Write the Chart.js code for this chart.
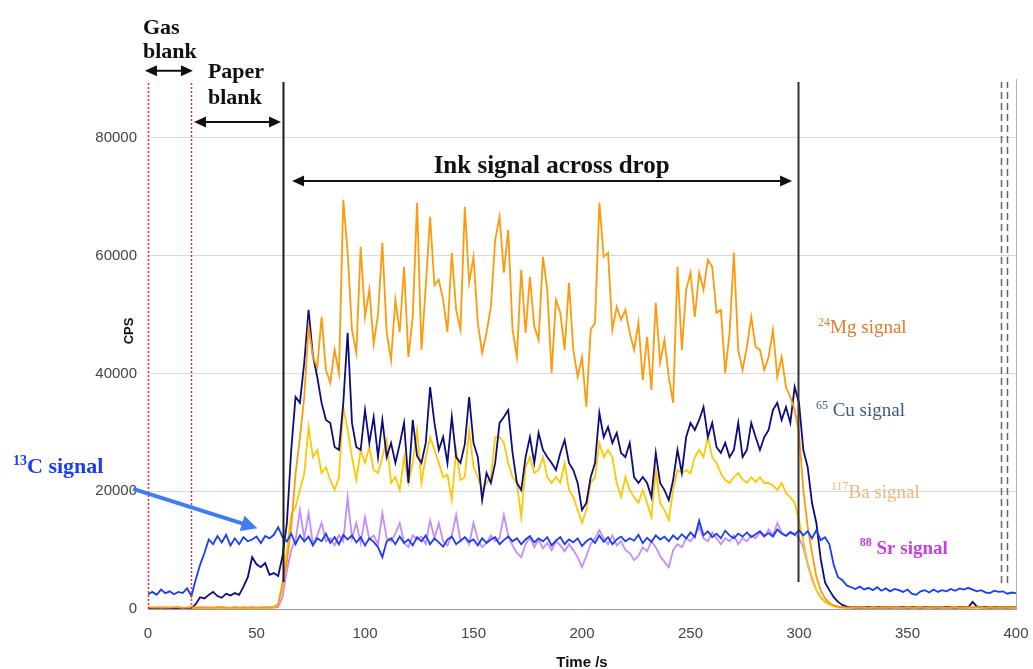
<!DOCTYPE html>
<html>
<head>
<meta charset="utf-8">
<script src="https://cdn.jsdelivr.net/npm/chart.js@4.4.1/dist/chart.umd.min.js"></script>
<style>
html, body { margin: 0; padding: 0; background: #fff; }
#wrap { width: 1033px; height: 669px; position: relative; }
</style>
</head>
<body>
<div id="wrap"><canvas id="icp-chart" width="1033" height="669"></canvas></div>
<script>
// time axis, one reading every 2 s
const time = Array.from({ length: 201 }, (_, i) => i * 2);

const mg24 = [
	300,250,300,200,300,250,300,300,200,250,
	300,250,300,200,300,250,300,300,250,200,
	300,250,300,250,300,200,300,250,300,350,
	800,4500,8000,14000,23000,29000,36000,48000,42800,41000,
	49600,40600,38400,44000,40000,69500,60500,47400,43500,61500,
	49600,54200,45000,50000,62200,46900,42300,52500,47000,58100,
	42800,49600,69000,44000,54700,66600,55000,55900,52500,47000,
	60500,50800,47400,68300,55400,59800,48600,43500,46900,51300,
	62700,66600,57100,64400,47400,42800,57600,46900,56400,48000,
	45700,59800,54200,40100,52500,50300,44000,55400,44000,39400,
	42800,34300,47400,48600,69000,59800,60500,47400,51300,49100,
	50800,46900,44000,48600,38900,46200,37200,52000,41800,45700,
	39400,35000,58100,44000,54200,57100,49600,57100,54200,59300,
	58100,50300,50800,40100,46900,60500,44000,40600,44500,49600,
	44500,44000,40600,42800,47400,39400,42800,37700,36000,33800,
	30000,20200,14000,9500,5500,3200,1800,1000,600,400,
	300,250,300,300,250,300,200,300,250,300,
	300,250,300,300,200,300,250,300,300,250,
	300,300,250,300,200,300,300,250,300,300,
	250,300,300,200,300,250,300,300,250,300,
	300
];

const cu65 = [
	100,100,100,100,100,100,100,100,100,100,
	150,800,2000,1800,2400,2900,2200,1900,2600,2300,
	2700,2400,3800,5400,8800,7600,7100,7800,5800,6100,
	5600,9000,14600,27000,36000,35000,41800,50800,43000,39400,
	35000,32100,31600,27500,27000,35000,46900,31600,27500,27000,
	33800,28200,32600,25800,32100,25800,28200,24800,28000,31600,
	21400,32100,26000,24800,28200,37700,31600,27000,29200,24800,
	32600,25800,24800,28000,36000,28200,25800,18500,23100,21400,
	24800,31600,32600,33800,26500,21400,20200,25800,29200,24800,
	29900,27000,25800,24800,23600,26500,28700,24800,23600,21400,
	16800,18000,22400,24800,33300,29200,30900,28200,29900,26500,
	25800,28200,22400,21400,22400,21400,19000,26500,21400,20200,
	18500,21900,27000,23100,29200,31600,30400,32100,34300,29200,
	31600,27500,26500,28200,25800,27000,31600,25800,27000,31600,
	29200,27000,29200,30400,33800,35000,32100,34300,31600,37700,
	35000,27000,24100,18000,14600,8500,4500,3200,2000,1200,
	700,400,300,300,250,300,300,250,300,300,
	300,250,300,300,300,250,300,300,250,300,
	300,300,250,300,300,300,250,300,300,300,
	1200,400,300,300,250,300,300,300,250,300,
	300
];

const ba117 = [
	200,150,200,200,150,200,200,150,200,200,
	150,200,200,150,200,200,150,200,200,150,
	200,200,150,200,200,150,200,200,150,200,
	800,3500,10000,16000,17300,20200,23000,30900,25800,27000,
	23100,24100,21900,20200,22400,34300,30400,25800,21900,27000,
	24800,27500,23600,23100,25800,28700,21400,22400,20200,25800,
	21400,24800,30400,21400,25800,29200,27000,24800,22400,22800,
	18500,27000,21900,22400,30400,24100,22400,20200,21400,22400,
	29200,29200,28200,24800,22400,21400,15600,24100,25800,23100,
	23600,25800,22400,21400,22400,21400,24800,20200,19000,16800,
	14600,16800,21400,22400,28200,25800,27000,25800,21400,19000,
	22400,20200,19000,18000,20200,18000,15600,23600,18000,16800,
	15100,20200,23600,23100,23600,23000,25800,27000,25800,29200,
	25800,24800,23000,21900,21400,22400,23100,22000,21400,22400,
	21600,22400,21400,21400,21000,20200,21400,19700,19000,18000,
	15100,11500,7800,5400,3200,1900,1200,800,500,300,
	300,250,300,300,250,300,300,250,300,300,
	250,300,300,250,300,300,250,300,300,250,
	300,300,250,300,300,250,300,300,250,300,
	300,250,300,300,250,300,300,250,300,300,
	300
];

const sr88 = [
	200,250,200,300,200,250,200,300,200,250,
	300,200,250,300,200,250,200,300,250,200,
	300,200,250,200,300,250,200,300,200,250,
	300,2000,6500,10000,11700,16800,12000,16300,11000,12500,
	14600,11500,12000,10800,12500,11500,19000,12000,14600,11200,
	15600,11800,12500,11000,16300,12000,11500,12800,14600,11200,
	10500,12500,11800,12300,11000,15100,12000,14600,11500,10800,
	12500,16000,11500,12200,11000,14600,11800,10500,11200,12500,
	11500,12000,16000,12500,10800,9500,8800,11000,12200,10500,
	11800,10300,11200,10000,11500,10800,9800,11000,10000,8800,
	7100,9000,11000,12000,13400,12000,11000,12500,10800,11500,
	10000,9500,8300,9000,10500,9800,11500,10500,9000,8000,
	7100,10000,11000,10500,12000,11500,12500,13900,12000,11500,
	13000,12000,11000,12000,11500,12500,11000,12000,11500,12500,
	12000,13000,12200,13500,12500,14600,13000,12500,13200,12800,
	12000,10500,7500,5000,3200,2000,1200,800,500,300,
	300,250,300,200,300,250,300,300,200,300,
	250,300,300,250,300,200,300,300,250,300,
	300,250,300,300,200,300,250,300,300,250,
	300,300,250,300,300,200,300,250,300,300,
	300
];

const c13 = [
	2500,2900,2400,3300,2700,3000,2500,2900,2700,3500,
	2200,5000,7500,9500,11800,11000,12400,11300,12600,10800,
	12000,11000,12200,11500,11800,12300,11200,12400,12000,12600,
	13900,12200,11500,12800,11000,12500,11500,12300,10800,12000,
	11500,12800,11200,12200,11000,12600,11800,12500,11300,12200,
	10800,12000,11400,10500,8800,11500,12000,11000,12300,11200,
	11800,10800,12200,11500,12500,11000,12000,11300,10600,11800,
	12300,11000,11600,12200,11400,11800,10800,12000,11200,11800,
	12200,11000,11700,12300,11500,12000,11000,11800,12400,11300,
	12000,11500,12200,10800,11600,12200,11000,11800,11300,12000,
	10700,11500,12000,11200,12500,11400,12200,11000,11800,12300,
	11500,12000,11600,12600,11200,12100,11400,12500,11800,12300,
	11500,12500,11800,12700,12000,13000,12200,15000,12500,13200,
	12200,12800,12000,13300,12500,12000,12800,12300,13000,12200,
	12700,13200,12400,12900,12300,13500,12800,12400,13000,12600,
	13400,12500,13200,12000,13400,11700,12200,11000,7500,5400,
	4900,4000,3700,3400,3800,3300,3600,3200,3700,3100,
	3500,3000,3400,3200,2900,3300,2600,2400,3000,3200,
	2800,3300,2900,3200,3000,3400,3100,3500,3300,3600,
	3300,3000,3200,2800,2700,3100,2900,3000,2600,2800,
	2700
];

const yTicks = [0, 20000, 40000, 60000, 80000];

const serif = "'Liberation Serif', 'Times New Roman', serif";
const sans = "'Liberation Sans', Arial, sans-serif";

function series(values) {
	return values.map((v, i) => ({ x: time[i], y: v }));
}

// blanks / signal window markers drawn over the data, in axis units
const annotations = {
	id: "annotations",
	afterDatasetsDraw(chart) {
		const { ctx, chartArea } = chart;
		const X = (t) => chart.scales.x.getPixelForValue(t);
		const Y = (v) => chart.scales.y.getPixelForValue(v);
		ctx.save();

		function vline(t, v0, v1, color, width, dash) {
			ctx.beginPath();
			ctx.strokeStyle = color;
			ctx.lineWidth = width;
			ctx.setLineDash(dash || []);
			ctx.moveTo(Math.round(X(t)) + 0.5, Y(v0));
			ctx.lineTo(Math.round(X(t)) + 0.5, Y(v1));
			ctx.stroke();
			ctx.setLineDash([]);
		}

		function head(x, y, ang, len, half, color) {
			ctx.beginPath();
			ctx.fillStyle = color;
			ctx.moveTo(x, y);
			ctx.lineTo(x - len * Math.cos(ang) + half * Math.sin(ang), y - len * Math.sin(ang) - half * Math.cos(ang));
			ctx.lineTo(x - len * Math.cos(ang) - half * Math.sin(ang), y - len * Math.sin(ang) + half * Math.cos(ang));
			ctx.closePath();
			ctx.fill();
		}

		function arrow(t0, v0, t1, v1, opts) {
			const x0 = X(t0), y0 = Y(v0), x1 = X(t1), y1 = Y(v1);
			const ang = Math.atan2(y1 - y0, x1 - x0);
			ctx.beginPath();
			ctx.strokeStyle = opts.color;
			ctx.lineWidth = opts.width;
			ctx.moveTo(x0 + (opts.both ? opts.len * 0.8 * Math.cos(ang) : 0), y0 + (opts.both ? opts.len * 0.8 * Math.sin(ang) : 0));
			ctx.lineTo(x1 - opts.len * 0.8 * Math.cos(ang), y1 - opts.len * 0.8 * Math.sin(ang));
			ctx.stroke();
			head(x1, y1, ang, opts.len, opts.half, opts.color);
			if (opts.both) head(x0, y0, ang + Math.PI, opts.len, opts.half, opts.color);
		}

		function label(sup, main, t, v, size, color, bold) {
			const w = bold ? "bold " : "";
			let x = X(t);
			const y = Y(v);
			ctx.fillStyle = color;
			ctx.textBaseline = "alphabetic";
			ctx.textAlign = "left";
			if (sup) {
				ctx.font = w + Math.round(size * 0.62) + "px " + serif;
				ctx.fillText(sup, x, y - size * 0.38);
				x += ctx.measureText(sup).width;
			}
			ctx.font = w + size + "px " + serif;
			ctx.fillText(main, x, y);
		}

		// right frame
		ctx.strokeStyle = "#b0b0b0";
		ctx.lineWidth = 1;
		ctx.beginPath();
		ctx.moveTo(Math.round(chartArea.right) + 0.5, chartArea.top);
		ctx.lineTo(Math.round(chartArea.right) + 0.5, chartArea.bottom);
		ctx.stroke();

		vline(0, 0, 89500, "#e8332a", 1.5, [2, 2]);
		vline(20, 0, 89500, "#e8332a", 1.5, [2, 2]);
		vline(62.3, 4600, 89500, "#1a1a1a", 2);
		vline(299.6, 4600, 89500, "#333333", 2);
		vline(393.2, 4400, 89500, "#666666", 1.5, [7, 4]);
		vline(395.8, 4400, 89500, "#666666", 1.5, [7, 4]);

		const black = { color: "#111", width: 2, len: 12, half: 5.5, both: true };
		arrow(-1.4, 91400, 20.7, 91400, black);
		arrow(21.2, 82700, 61.3, 82700, black);
		arrow(66.4, 72700, 296.8, 72700, black);
		arrow(-6.9, 20400, 50.4, 13700, { color: "#3f7cf5", width: 4, len: 16, half: 8, both: false });

		label("", "Gas", -2.3, 97700, 22, "#111", true);
		label("", "blank", -2.3, 93600, 22, "#111", true);
		label("", "Paper", 27.6, 90100, 22, "#111", true);
		label("", "blank", 27.6, 85700, 22, "#111", true);

		ctx.font = "bold 25px " + serif;
		ctx.fillStyle = "#111";
		ctx.textAlign = "center";
		ctx.fillText("Ink signal across drop", X(186), Y(74100));

		label("24", "Mg signal", 308.8, 46900, 19, "#e27a2c", false);
		label("65", " Cu signal", 307.8, 32800, 19, "#3d5b82", false);
		label("117", "Ba signal", 314.7, 18900, 19, "#f2b57a", false);
		label("88", " Sr signal", 328, 9400, 19, "#c83ee0", true);
		label("13", "C signal", -62.2, 23100, 22, "#1a3cf5", true);

		// axis titles
		ctx.fillStyle = "#111";
		ctx.font = "bold 15px " + sans;
		ctx.textAlign = "center";
		ctx.textBaseline = "alphabetic";
		ctx.fillText("Time /s", (chartArea.left + chartArea.right) / 2, 667);
		ctx.translate(133, 331);
		ctx.rotate(-Math.PI / 2);
		ctx.font = "bold 13px " + sans;
		ctx.fillText("CPS", 0, 0);

		ctx.restore();
	},
};

new Chart(document.getElementById("icp-chart"), {
	type: "line",
	data: {
		datasets: [
			{ label: "13C", data: series(c13), borderColor: "#1a3cf5" },
			{ label: "24Mg", data: series(mg24), borderColor: "#ff9a0a" },
			{ label: "65Cu", data: series(cu65), borderColor: "#0c0c80" },
			{ label: "117Ba", data: series(ba117), borderColor: "#ffc800" },
			{ label: "88Sr", data: series(sr88), borderColor: "#c58cff" },
		],
	},
	options: {
		responsive: false,
		animation: false,
		devicePixelRatio: 1,
		layout: { padding: { top: 79, right: 17, left: 0, bottom: 0 } },
		elements: {
			line: { borderWidth: 1.8, tension: 0 },
			point: { radius: 0 },
		},
		scales: {
			x: {
				type: "linear",
				min: 0,
				max: 400,
				afterFit: (scale) => {
					scale.height = 60;
					scale.paddingLeft = 0;
					scale.paddingRight = 0;
				},
				grid: { display: false, drawTicks: false },
				border: { color: "#9a9a9a" },
				ticks: { stepSize: 50, padding: 16, color: "#444", font: { size: 15, family: sans } },
			},
			y: {
				min: 0,
				max: 90000,
				afterFit: (scale) => {
					scale.width = 148;
					scale.paddingTop = 0;
					scale.paddingBottom = 0;
				},
				afterBuildTicks: (scale) => { scale.ticks = yTicks.map((v) => ({ value: v })); },
				grid: { color: "#dadada", drawTicks: false },
				border: { display: false },
				ticks: {
					padding: 11,
					color: "#444",
					font: { size: 15, family: sans },
					callback: (v) => String(v),
				},
			},
		},
		plugins: {
			legend: { display: false },
			tooltip: { enabled: false },
		},
	},
	plugins: [annotations],
});
</script>
</body>
</html>
